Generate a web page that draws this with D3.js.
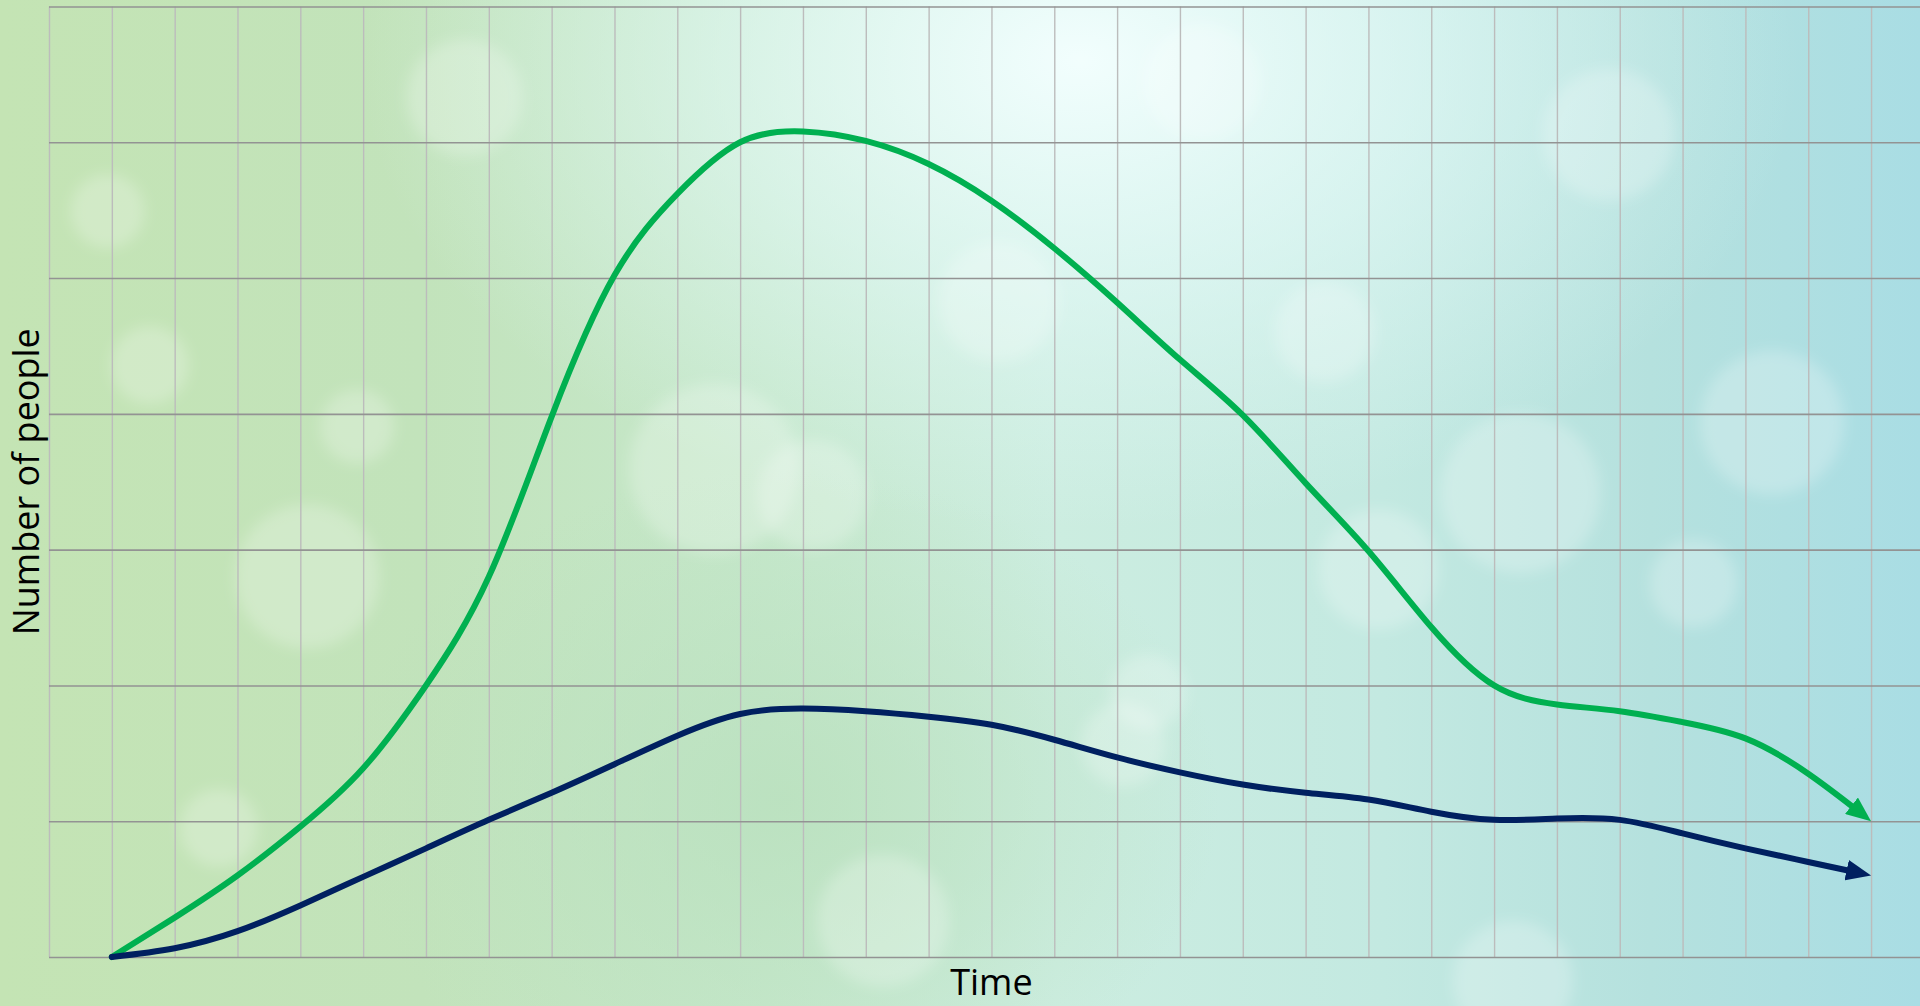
<!DOCTYPE html>
<html>
<head>
<meta charset="utf-8">
<script src="https://cdn.jsdelivr.net/npm/d3@7"></script>
<style>
  html, body { margin: 0; padding: 0; overflow: hidden; background: #c4e4b4; }
  svg { display: block; }
</style>
</head>
<body>
<svg id="chart" width="1920" height="1006"></svg>
<script>
// ---------- DATA ----------
const timeSteps   = [1,2,3,4,5,6,7,8,9,10,11,12,13,14,15,16,17,18,19,20,21,22,23,24,25,26,27,28,29];
const greenSeries = [0,0.29,0.60,0.96,1.39,2.0,2.80,3.98,5.02,5.62,6.0,6.08,6.01,5.84,5.57,5.22,4.82,4.40,3.99,3.49,2.99,2.43,2.0,1.86,1.81,1.73,1.61,1.35,1.0];
const navySeries  = [0,0.064,0.19,0.38,0.59,0.80,1.01,1.21,1.42,1.63,1.79,1.83,1.81,1.77,1.71,1.60,1.47,1.36,1.27,1.21,1.16,1.07,1.01,1.02,1.01,0.91,0.80,0.70,0.60];
const xGridTicks  = [0,1,2,3,4,5,6,7,8,9,10,11,12,13,14,15,16,17,18,19,20,21,22,23,24,25,26,27,28,29,30];
const yGridTicks  = [0,1,2,3,4,5,6,7];
const xTitle = "Time";
const yTitle = "Number of people";

// decorative bokeh (fractions of width / height, radius in px)
const bokeh = [
  [0.056,0.210,37],[0.078,0.363,39],[0.186,0.424,37],[0.114,0.823,39],
  [0.242,0.097,58],[0.626,0.082,58],[0.838,0.134,66],[0.923,0.420,72],
  [0.598,0.688,38],[0.585,0.740,42],[0.882,0.580,44],[0.792,0.490,80],
  [0.372,0.466,85],[0.423,0.492,55],[0.460,0.915,66],[0.788,0.975,60],
  [0.718,0.566,60],[0.160,0.573,72],[0.690,0.330,50],[0.520,0.300,60]
];

// ---------- SETUP ----------
const W = 1920, H = 1006;
const svg = d3.select("#chart");
const x = d3.scaleLinear().domain([0, 30]).range([49, 49 + 30 * 62.83]);
const y = d3.scaleLinear().domain([0, 7]).range([957, 6.5]);

const defs = svg.append("defs");
const bg = defs.append("linearGradient").attr("id", "bg").attr("x1", 0).attr("x2", 1).attr("y1", 0).attr("y2", 0);
[[0,"#c4e4b4"],[0.22,"#c2e3bb"],[0.4,"#c6e8cc"],[0.55,"#ccede0"],[0.72,"#c3e9e1"],[0.86,"#b5e1de"],[1,"#a9dde4"]]
  .forEach(([o,c]) => bg.append("stop").attr("offset", o).attr("stop-color", c));

const glow = defs.append("radialGradient").attr("id", "glow");
glow.append("stop").attr("offset", 0).attr("stop-color", "#f4ffff").attr("stop-opacity", 0.95);
glow.append("stop").attr("offset", 0.5).attr("stop-color", "#e6fbfa").attr("stop-opacity", 0.55);
glow.append("stop").attr("offset", 1).attr("stop-color", "#e0f8f6").attr("stop-opacity", 0);

const greenPatch = defs.append("radialGradient").attr("id", "greenPatch");
greenPatch.append("stop").attr("offset", 0).attr("stop-color", "#b9e0bd").attr("stop-opacity", 0.8);
greenPatch.append("stop").attr("offset", 1).attr("stop-color", "#b9e0bd").attr("stop-opacity", 0);

defs.append("filter").attr("id", "blur").attr("x", "-50%").attr("y", "-50%").attr("width", "200%").attr("height", "200%")
  .append("feGaussianBlur").attr("stdDeviation", 7);

function marker(id, color) {
  defs.append("marker").attr("id", id)
    .attr("viewBox", "0 0 25 21").attr("markerUnits", "userSpaceOnUse")
    .attr("markerWidth", 25).attr("markerHeight", 21)
    .attr("refX", 25).attr("refY", 10.5).attr("orient", "auto")
    .append("path").attr("d", "M0,0 L25,10.5 L0,21 Z").attr("fill", color);
}
marker("arrowGreen", "#00b050");
marker("arrowNavy", "#002060");

// ---------- BACKGROUND ----------
svg.append("rect").attr("width", W).attr("height", H).attr("fill", "url(#bg)");
svg.append("ellipse").attr("cx", 780).attr("cy", 800).attr("rx", 440).attr("ry", 330).attr("fill", "url(#greenPatch)");
svg.append("ellipse").attr("cx", 1080).attr("cy", 60).attr("rx", 720).attr("ry", 470).attr("fill", "url(#glow)");
svg.append("g").attr("filter", "url(#blur)")
  .selectAll("circle").data(bokeh).join("circle")
  .attr("cx", d => d[0] * W).attr("cy", d => d[1] * H).attr("r", d => d[2])
  .attr("fill", "#ffffff").attr("fill-opacity", 0.24);

// ---------- GRID ----------
const gx = svg.append("g").attr("transform", `translate(0,${y(0)})`)
  .call(d3.axisBottom(x).tickValues(xGridTicks).tickSize(-(y(0) - y(7))).tickFormat(""));
gx.select(".domain").remove();
gx.selectAll(".tick line").attr("stroke", "#bcbcbc").attr("stroke-width", 1.4);

const gy = svg.append("g").attr("transform", `translate(${x(0)},0)`)
  .call(d3.axisLeft(y).tickValues(yGridTicks).tickSize(-(x(30) - x(0))).tickFormat(""));
gy.select(".domain").remove();
gy.selectAll(".tick line").attr("stroke", "#939393").attr("stroke-width", 1.6);

// ---------- LINES ----------
const line = d3.line().x(d => x(d.t)).y(d => y(d.v)).curve(d3.curveNatural);
const series = [
  { values: greenSeries, color: "#00b050", marker: "arrowGreen" },
  { values: navySeries,  color: "#002060", marker: "arrowNavy" }
];
series.forEach(s => {
  const pts = timeSteps.map((t, i) => ({ t, v: s.values[i] }));
  const p = svg.append("path").datum(pts)
    .attr("d", line)
    .attr("fill", "none")
    .attr("stroke", s.color)
    .attr("stroke-width", 6)
    .attr("stroke-linecap", "round")
    .attr("stroke-linejoin", "round")
    .attr("marker-end", `url(#${s.marker})`);
  const L = p.node().getTotalLength();
  p.attr("stroke-dasharray", `${L - 13} ${L + 20}`);
});

// ---------- TITLES ----------
svg.append("text")
  .attr("x", (x(0) + x(30)) / 2).attr("y", 995)
  .attr("text-anchor", "middle")
  .attr("font-family", "'Open Sans', 'Noto Sans', sans-serif")
  .attr("font-size", 36).attr("fill", "#000")
  .text(xTitle);

svg.append("text")
  .attr("transform", `translate(39,${(y(0) + y(7)) / 2}) rotate(-90)`)
  .attr("text-anchor", "middle")
  .attr("font-family", "'Open Sans', 'Noto Sans', sans-serif")
  .attr("font-size", 36).attr("fill", "#000")
  .text(yTitle);
</script>
</body>
</html>
